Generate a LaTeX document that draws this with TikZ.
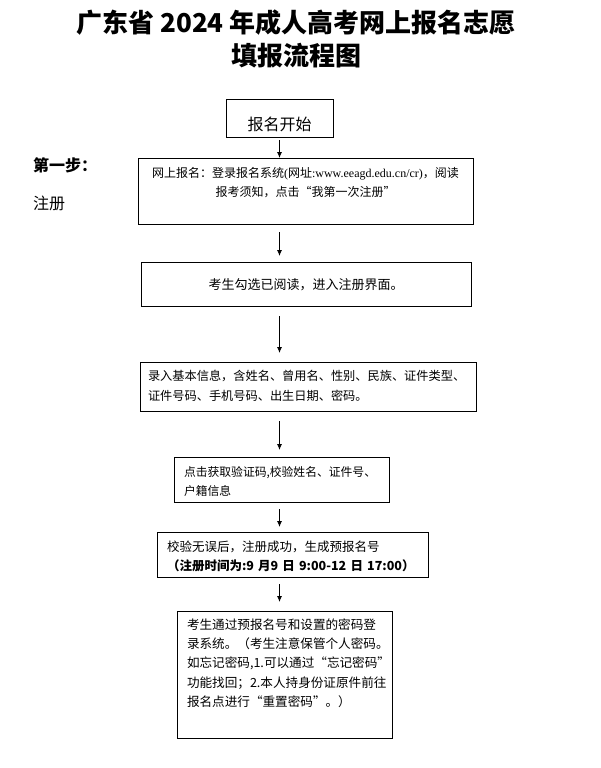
\documentclass[tikz,border=0pt]{standalone}
\usepackage{fontspec}
\setmainfont{Noto Sans CJK SC}
\newfontfamily\xiwen{Liberation Serif}
\usetikzlibrary{arrows.meta}

\begin{document}
\begin{tikzpicture}[x=1pt, y=-1pt,
    kuang/.style={draw, line width=1pt, anchor=north, inner ysep=0pt},
    jiantou/.style={-{Latex[length=6pt,width=5pt]}, line width=0.8pt}]
        \def\shang#1{\rule{0pt}{#1pt}}
        \def\xia#1{\rule[-#1pt]{0pt}{#1pt}}
        \useasboundingbox (0,0) rectangle (600,768);
        % 标题
        \node[font=\fontsize{26}{26}\selectfont\bfseries, anchor=base, inner sep=0pt] (biaotiA) at (296,33) {广东省 2024 年成人高考网上报名志愿};
        \node[font=\fontsize{26}{26}\selectfont\bfseries, anchor=base, inner sep=0pt] (biaotiB) at (296,65.6) {填报流程图};
        % 左侧步骤说明
        \node[font=\fontsize{16}{16}\selectfont\bfseries, anchor=base west, inner sep=0pt] (buzhou) at (33,171) {第一步：};
        \node[font=\fontsize{16}{16}\selectfont, anchor=base west, inner sep=0pt] (zhuce) at (33,209) {注册};
        % 绘制流程框
        \node[kuang, font=\fontsize{16}{16}\selectfont, minimum width=107pt, text height=31pt, text depth=7pt] (kaishi) at (279.5,99) {报名开始};
        \node[kuang, font=\fontsize{12}{18.5}\selectfont, inner xsep=10pt, text width=315pt, align=center] (denglu) at (305.5,158)
            {\shang{19.4}网上报名：登录报名系统{\xiwen(}网址{\xiwen:www.eeagd.edu.cn/cr)}，阅读\\报考须知，点击“我第一次注册”\xia{28.1}};
        \node[kuang, font=\fontsize{13}{13}\selectfont, minimum width=330pt, text height=26.8pt, text depth=17.2pt] (yuedu) at (306,262) {考生勾选已阅读，进入注册界面。};
        \node[kuang, font=\fontsize{12.2}{20}\selectfont, inner xsep=8pt, text width=320pt, align=left] (jiben) at (308,362)
            {\shang{17.5}录入基本信息，含姓名、曾用名、性别、民族、证件类型、\\证件号码、手机号码、出生日期、密码。\xia{11.5}};
        \node[kuang, font=\fontsize{11.8}{18.5}\selectfont, inner xsep=10pt, text width=195pt, align=left] (yanzheng) at (281.5,457)
            {\shang{19.4}点击获取验证码,校验姓名、证件号、\\户籍信息\xia{7.1}};
        \node[kuang, font=\fontsize{12.5}{19}\selectfont, inner xsep=10pt, text width=251pt, align=left] (chenggong) at (292.5,532)
            {\shang{18.6}校验无误后，注册成功，生成预报名号\\\textbf{（注册时间为:9 月9 日 9:00-12 日 17:00）}\xia{7.4}};
        \node[kuang, font=\fontsize{12.6}{19.3}\selectfont, inner xsep=10pt, text width=195pt, align=left] (mima) at (284.5,611)
            {\shang{17.7}考生通过预报名号和设置的密码登\\录系统。（考生注意保管个人密码。\\如忘记密码,1.可以通过“忘记密码”\\功能找回；2.本人持身份证原件前往\\报名点进行“重置密码”。）\xia{32.1}};
        % 绘制箭头
        \draw[jiantou] ([yshift=-2pt]kaishi.south) -- (denglu.north -| kaishi);
        \draw[jiantou] ([yshift=-7pt]denglu.south -| kaishi) -- ([yshift=6pt]yuedu.north -| kaishi);
        \draw[jiantou] ([yshift=-9pt]yuedu.south -| kaishi) -- ([yshift=9pt]jiben.north -| kaishi);
        \draw[jiantou] ([yshift=-9pt]jiben.south -| kaishi) -- ([yshift=7pt]yanzheng.north -| kaishi);
        \draw[jiantou] ([yshift=-6pt]yanzheng.south -| kaishi) -- ([yshift=5pt]chenggong.north -| kaishi);
        \draw[jiantou] ([yshift=-6pt]chenggong.south -| kaishi) -- ([yshift=9pt]mima.north -| kaishi);
    \end{tikzpicture}
\end{document}
